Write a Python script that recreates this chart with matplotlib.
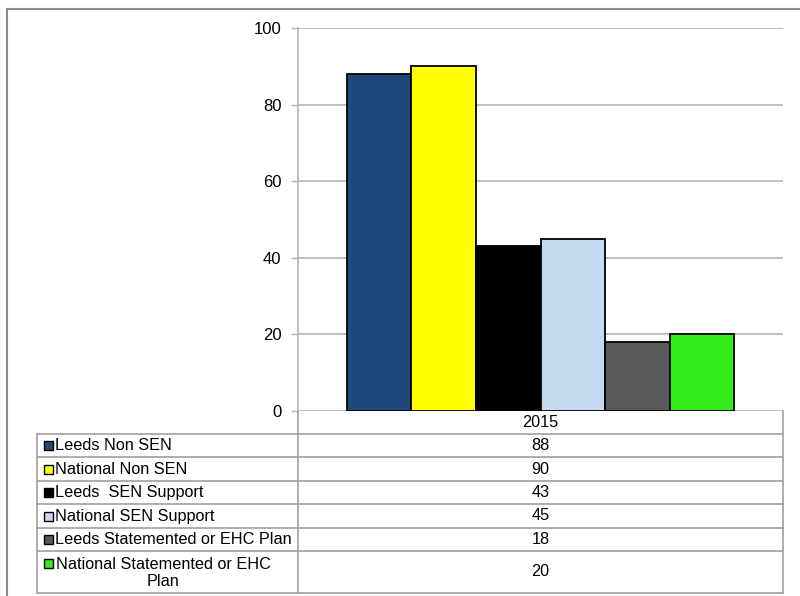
import matplotlib
matplotlib.use('Agg')
import matplotlib.pyplot as plt
from matplotlib.lines import Line2D
from matplotlib.patches import Rectangle
import numpy as np

# Data
year = '2015'
series = ['Leeds Non SEN', 'National Non SEN', 'Leeds  SEN Support', 'National SEN Support',
          'Leeds Statemented or EHC Plan', 'National Statemented or EHC\nPlan']
values = [88, 90, 43, 45, 18, 20]
colors = ['#1F497D', '#FFFF00', '#000000', '#C6D9F1', '#595959', '#33EE1A']
yticks = [0, 20, 40, 60, 80, 100]

W, H = 800, 596
plt.rcParams['font.family'] = ['Liberation Sans', 'DejaVu Sans']
fig = plt.figure(figsize=(W / 100, H / 100), dpi=100)
fs = 11.7


def fx(x):
    return x / W


def fy(y):
    return 1 - y / H


grid_c = '#b4b4b4'
line_c = '#a0a0a0'

# axes placed in pixel coordinates
ax_l, ax_r, ax_t, ax_b = 298, 783, 28, 411
ax = fig.add_axes([fx(ax_l), fy(ax_b), fx(ax_r - ax_l), fy(ax_t) - fy(ax_b)])
n = len(values)
group = 0.8
w = group / n
x0 = -group / 2 + w / 2
for i, (v, c) in enumerate(zip(values, colors)):
    ax.bar(x0 + i * w, v, width=w, color=c, edgecolor='black', linewidth=1.3, zorder=3)
ax.set_xlim(-0.5, 0.5)
ax.set_ylim(0, 100)
ax.set_yticks(yticks)
ax.set_yticklabels([str(t) for t in yticks], fontsize=12)
ax.set_xticks([])
ax.tick_params(axis='y', length=5, width=1, color=grid_c, pad=7)
ax.yaxis.grid(True, color=grid_c, linewidth=1.2, zorder=0)
for s in ['top', 'right', 'bottom']:
    ax.spines[s].set_visible(False)
ax.spines['left'].set_color(grid_c)
ax.spines['left'].set_linewidth(1.2)

# data table under the chart
tab_l, tab_m = 37, 298
rows_y = [411, 434, 457, 481, 504, 528, 551, 593]


def hline(y, xa, xb):
    fig.add_artist(Line2D([fx(xa), fx(xb)], [fy(y), fy(y)], color=line_c, linewidth=1.2))


def vline(x, ya, yb):
    fig.add_artist(Line2D([fx(x), fx(x)], [fy(ya), fy(yb)], color=line_c, linewidth=1.2))


for y in rows_y[1:]:
    hline(y, tab_l, ax_r)
vline(tab_l, rows_y[1], rows_y[-1])
vline(tab_m, rows_y[0], rows_y[-1])
vline(ax_r, rows_y[0], rows_y[-1])

mid_val = (tab_m + ax_r) / 2
fig.text(fx(mid_val), fy((rows_y[0] + rows_y[1]) / 2), year, ha='center', va='center', fontsize=fs)
for i, (name, v, c) in enumerate(zip(series, values, colors)):
    ya, yb = rows_y[i + 1], rows_y[i + 2]
    yc = (ya + yb) / 2
    fig.text(fx(mid_val), fy(yc), str(v), ha='center', va='center', fontsize=fs)
    if '\n' in name:
        y_sq = ya + 12
        fig.text(fx(163), fy(yc + 1), name, ha='center', va='center', multialignment='center',
                 fontsize=fs, linespacing=1.12)
    else:
        y_sq = yc
        fig.text(fx(55), fy(yc), name, ha='left', va='center', fontsize=fs)
    fig.add_artist(Rectangle((fx(43.5), fy(y_sq + 4.5)), fx(9), fy(0) - fy(9), facecolor=c,
                             edgecolor='black', linewidth=1.0))

# outer frame
fig.add_artist(Line2D([fx(7), fx(800)], [fy(9), fy(9)], color='#8c8c8c', linewidth=1.5))
fig.add_artist(Line2D([fx(7), fx(7)], [fy(9), fy(596)], color='#8c8c8c', linewidth=1.5))

fig.savefig('out.png', dpi=100)
